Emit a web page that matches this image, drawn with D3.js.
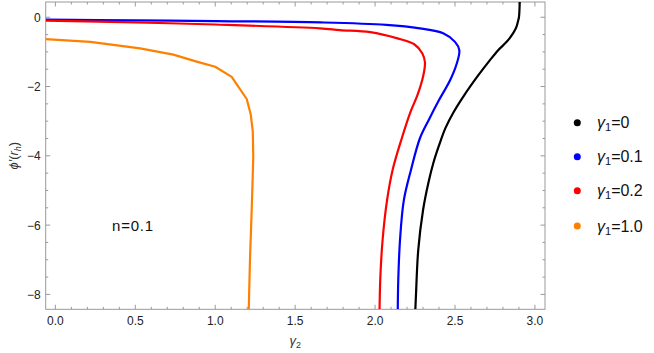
<!DOCTYPE html>
<html><head><meta charset="utf-8">
<script src="https://cdn.jsdelivr.net/npm/d3@7"></script>
<style>body{margin:0;background:#fff}svg{display:block}text{font-family:"Liberation Sans",Arial,sans-serif}</style>
</head><body><svg id="c" width="654" height="353"></svg>
<script>
const legendLabels = ["0", "0.1", "0.2", "1.0"];
const colors = ["#000000", "#0000ff", "#ff0000", "#ff8000"];
const xTicks = [0, 0.5, 1.0, 1.5, 2.0, 2.5, 3.0];
const yTicks = [0, -2, -4, -6, -8];
const black = [[2.905,0.44],[2.9,0],[2.895,-0.1],[2.885,-0.27],[2.864,-0.46],[2.823,-0.71],[2.77,-0.95],[2.715,-1.26],[2.645,-1.68],[2.552,-2.29],[2.49,-2.75],[2.44,-3.2],[2.40,-3.7],[2.365,-4.2],[2.335,-4.75],[2.30,-5.57],[2.27,-6.72],[2.256,-8.0],[2.252,-8.43]];
const blue = [[-0.06,-0.07],[0.5,-0.09],[1.0,-0.11],[1.66,-0.15],[2.07,-0.22],[2.28,-0.32],[2.426,-0.46],[2.50,-0.71],[2.527,-0.95],[2.51,-1.35],[2.47,-1.81],[2.40,-2.39],[2.335,-2.97],[2.28,-3.5],[2.225,-4.4],[2.18,-5.28],[2.156,-6.43],[2.145,-7.6],[2.142,-8.43]];
const red = [[-0.06,-0.1],[0.5,-0.15],[1.0,-0.21],[1.655,-0.32],[1.78,-0.37],[1.97,-0.43],[2.14,-0.61],[2.245,-0.78],[2.295,-1.04],[2.312,-1.3],[2.30,-1.72],[2.265,-2.25],[2.22,-2.75],[2.17,-3.45],[2.11,-4.4],[2.075,-5.28],[2.047,-6.43],[2.033,-7.5],[2.028,-8.43]];
const orange = [[-0.06,-0.63],[0.218,-0.71],[0.53,-0.90],[0.738,-1.08],[0.884,-1.28],[1.0,-1.43],[1.103,-1.72],[1.197,-2.36],[1.222,-2.8],[1.235,-3.3],[1.238,-4.03],[1.232,-5.0],[1.225,-6.0],[1.218,-6.91],[1.212,-8.0],[1.21,-8.43]];
const series = [black, blue, red, orange];

const svg = d3.select("#c");
const L = 45.7, R = 545, T = 2, B = 309.3;
const x = d3.scaleLinear().domain([-0.0605, 3.063]).range([L, R]);
const y = d3.scaleLinear().domain([0.44, -8.43]).range([T, B]);

svg.append("defs").append("clipPath").attr("id","cp").append("rect")
  .attr("x",L).attr("y",T).attr("width",R-L).attr("height",B-T);

const axCol = "#9a9a9a";
const g = svg.append("g");
const xMinor = d3.range(0, 31).map(i => i/10).filter(v => v <= 3.06);
const yMinor = d3.range(0, 17).map(i => -i/2);
const isMajX = v => Math.abs(v*2 - Math.round(v*2)) < 1e-6;
const isMajY = v => Math.abs(v/2 - Math.round(v/2)) < 1e-6;
xMinor.forEach(v => {
  const len = isMajX(v) ? 4.5 : 2.5;
  g.append("line").attr("x1",x(v)).attr("x2",x(v)).attr("y1",B).attr("y2",B-len).attr("stroke",axCol);
  g.append("line").attr("x1",x(v)).attr("x2",x(v)).attr("y1",T).attr("y2",T+len).attr("stroke",axCol);
});
yMinor.forEach(v => {
  const len = isMajY(v) ? 4.5 : 2.5;
  g.append("line").attr("y1",y(v)).attr("y2",y(v)).attr("x1",L).attr("x2",L+len).attr("stroke",axCol);
  g.append("line").attr("y1",y(v)).attr("y2",y(v)).attr("x1",R).attr("x2",R-len).attr("stroke",axCol);
});
g.append("rect").attr("x",L).attr("y",T).attr("width",R-L).attr("height",B-T)
  .attr("fill","none").attr("stroke",axCol).attr("stroke-width",1);

g.selectAll(".xl").data(xTicks).enter().append("text")
  .attr("x", d => x(d)).attr("y", B+16).attr("text-anchor","middle")
  .attr("font-size",12).attr("fill","#222").text(d => d.toFixed(1));
g.selectAll(".yl").data(yTicks).enter().append("text")
  .attr("x", L-5).attr("y", d => y(d)+4.5).attr("text-anchor","end")
  .attr("font-size",12).attr("fill","#222").text(d => d === 0 ? "0" : "\u2212" + Math.abs(d));

// axis labels
const xl = svg.append("text").attr("x", x(1.5)).attr("y", 345).attr("text-anchor","middle")
  .attr("font-size",13).attr("fill","#333");
xl.append("tspan").attr("font-style","italic").text("\u03b3");
xl.append("tspan").attr("font-size",9).attr("dy",3).text("2");

const yl = svg.append("text").attr("transform",`translate(18,${(T+B)/2}) rotate(-90)`)
  .attr("text-anchor","middle").attr("font-size",13).attr("fill","#333");
yl.append("tspan").attr("font-style","italic").text("\u03d5\u2032");
yl.append("tspan").text("(");
yl.append("tspan").attr("font-style","italic").text("r");
yl.append("tspan").attr("font-style","italic").attr("font-size",9).attr("dy",3).text("h");
yl.append("tspan").attr("dy",-3).text(")");

// curves
const lineSmooth = d3.line().x(d => x(d[0])).y(d => y(d[1])).curve(d3.curveCatmullRom.alpha(0.5));
const lineLin = d3.line().x(d => x(d[0])).y(d => y(d[1]));
const cg = svg.append("g").attr("clip-path","url(#cp)");
series.forEach((s, i) => {
  cg.append("path").attr("d", i === 3 ? lineLin(s) : lineSmooth(s))
    .attr("fill","none").attr("stroke",colors[i]).attr("stroke-width",2.2)
    .attr("stroke-linejoin","round");
});

svg.append("text").attr("x",112).attr("y",231).attr("font-size",15).attr("letter-spacing",0.8).attr("fill","#111").text("n=0.1");

// legend
const lg = svg.append("g");
legendLabels.forEach((lab, i) => {
  const cy = [122.7, 156.7, 190.7, 226][i];
  lg.append("circle").attr("cx",577.3).attr("cy",cy).attr("r",3.5).attr("fill",colors[i]);
  const t = lg.append("text").attr("x",597).attr("y",cy+5.5).attr("font-size",16).attr("fill","#111");
  t.append("tspan").attr("font-style","italic").text("\u03b3");
  t.append("tspan").attr("font-size",11).attr("dy",3).text("1");
  t.append("tspan").attr("dy",-3).text("=" + lab);
});
</script></body></html>
